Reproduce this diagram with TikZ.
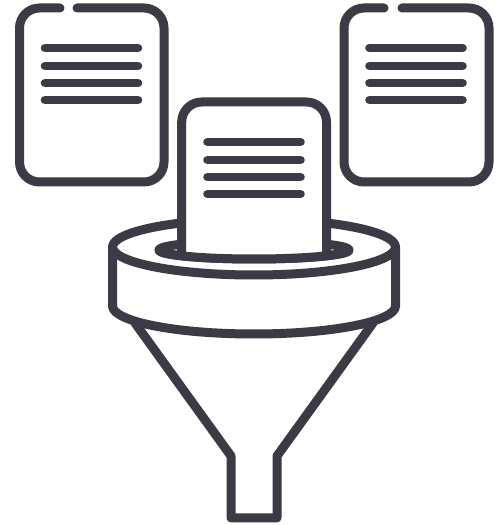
\documentclass[tikz,border=0pt]{standalone}
\definecolor{ink}{HTML}{3B3A45}
\tikzset{
  icon/.style={draw=ink,line width=9pt,line cap=round,line join=round},
  txt/.style={draw=ink,line width=8.6pt,line cap=round},
}
\newcommand{\txtlines}[2]{%
  \draw[txt] (#1,#2) -- ++(93,0);
  \draw[txt] (#1,#2-18) -- ++(93,0);
  \draw[txt] (#1,#2-35) -- ++(93,0);
  \draw[txt] (#1,#2-52) -- ++(93,0);
}
\begin{document}
\begin{tikzpicture}[x=1pt,y=1pt]
\useasboundingbox (0,0) rectangle (498,525);
\fill[white] (0,0) rectangle (498,525);
% left document
\draw[icon,rounded corners=20pt] (77,517) -- (164,517) -- (164,343) -- (19.5,343) -- (19.5,517) -- (60,517);
\txtlines{45}{477}
% right document
\draw[icon,rounded corners=20pt] (402,517) -- (489,517) -- (489,343) -- (344,343) -- (344,517) -- (384,517);
\txtlines{369.5}{477}
% funnel collar
\draw[icon] (254,278) ellipse [x radius=141.5,y radius=28];
\draw[icon] (112.5,278) -- (112.5,219) arc[start angle=180,end angle=360,x radius=141.5,y radius=28] -- (395.5,278);
% inner ring
\draw[icon] (254,275) ellipse [x radius=95,y radius=9];
% middle document
\fill[white,rounded corners=20pt] (181.7,267) -- (181.7,423) -- (326.5,423) -- (326.5,267) -- cycle;
\draw[icon,rounded corners=20pt,line cap=butt] (181.7,268) -- (181.7,423) -- (326.5,423) -- (326.5,268);
\txtlines{207.5}{383}
% front of inner ring
\draw[icon,line cap=butt] (159,275) arc[start angle=180,end angle=360,x radius=95,y radius=9];
% cone and neck
\draw[icon] (135,202) -- (231,69) -- (231,7) -- (277,7) -- (277,69) -- (373,202);
\end{tikzpicture}
\end{document}
